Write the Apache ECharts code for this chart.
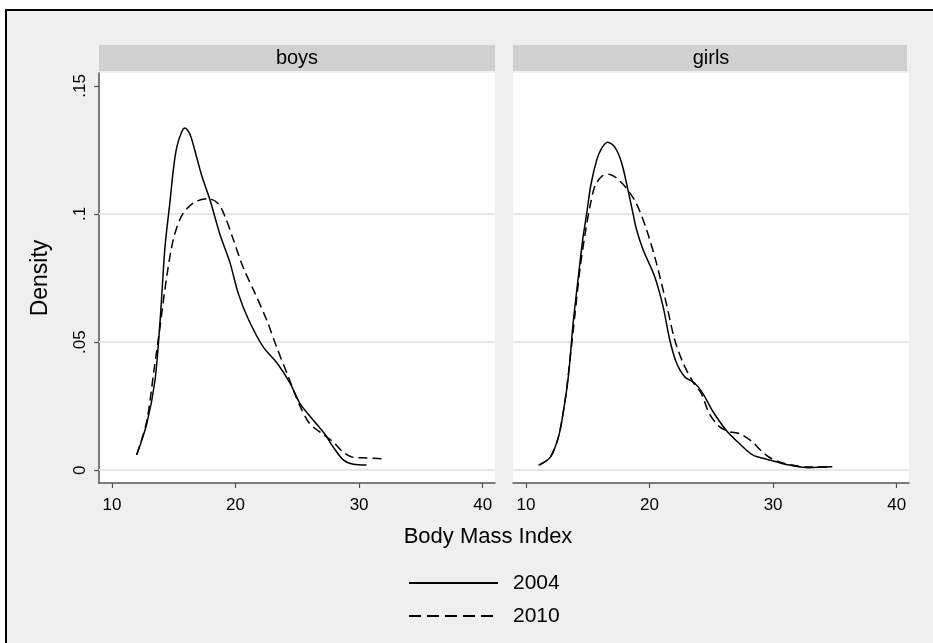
<!DOCTYPE html>
<html>
<head>
<meta charset="utf-8">
<script src="https://cdn.jsdelivr.net/npm/echarts@6/dist/echarts.min.js"></script>
<style>
html,body{margin:0;padding:0;background:#fff;}
#chart{width:933px;height:643px;}
</style>
</head>
<body>
<div id="chart"></div>
<script>
const panels = ['boys', 'girls'];
const years = ['2004', '2010'];
const xTicks = [10, 20, 30, 40];
const yTicks = [0, 0.05, 0.1, 0.15];
const gridLines = [0, 0.05, 0.1];

const boys2004 = [[12.0,0.006],[12.81,0.018],[13.48,0.035],[13.89,0.058],[14.29,0.087],[14.70,0.105],[14.96,0.117],[15.24,0.126],[15.64,0.132],[15.91,0.1335],[16.32,0.131],[16.86,0.122],[17.26,0.115],[17.93,0.1055],[18.74,0.092],[19.55,0.081],[20.22,0.069],[21.03,0.059],[22.25,0.048],[23.33,0.042],[24.41,0.034],[25.22,0.026],[26.3,0.0195],[27.24,0.014],[27.91,0.009],[28.72,0.004],[29.53,0.0023],[30.6,0.002]];
const boys2010 = [[12.0,0.006],[12.81,0.019],[13.40,0.039],[13.89,0.056],[14.43,0.0755],[14.96,0.090],[15.51,0.098],[16.05,0.102],[16.86,0.105],[17.8,0.106],[18.61,0.104],[19.15,0.099],[19.82,0.090],[20.63,0.079],[21.58,0.069],[22.52,0.0586],[23.33,0.048],[24.27,0.0365],[25.22,0.025],[26.03,0.018],[27.1,0.014],[27.91,0.011],[28.72,0.007],[29.53,0.005],[30.62,0.0048],[31.96,0.0044]];
const girls2004 = [[11.02,0.002],[11.96,0.005],[12.63,0.013],[13.03,0.023],[13.43,0.0365],[13.84,0.0586],[14.24,0.0755],[14.59,0.090],[14.91,0.100],[15.24,0.111],[15.72,0.121],[16.12,0.1256],[16.61,0.128],[17.2,0.126],[17.74,0.120],[18.27,0.109],[18.67,0.100],[18.94,0.094],[19.48,0.086],[20.42,0.0755],[21.09,0.064],[21.63,0.051],[22.17,0.042],[22.84,0.0365],[23.64,0.034],[24.31,0.030],[25.12,0.023],[26.2,0.0156],[27.27,0.0104],[28.34,0.006],[29.69,0.004],[31.3,0.002],[32.91,0.001],[34.79,0.0013]];
const girls2010 = [[11.1,0.002],[11.96,0.005],[12.63,0.013],[13.16,0.027],[13.56,0.043],[13.97,0.061],[14.38,0.079],[14.78,0.092],[15.18,0.103],[15.59,0.111],[16.12,0.1146],[16.66,0.1155],[17.33,0.114],[18.14,0.110],[18.94,0.104],[19.75,0.094],[20.55,0.081],[21.36,0.065],[22.03,0.051],[22.7,0.042],[23.51,0.0345],[24.18,0.030],[24.85,0.022],[25.66,0.017],[26.46,0.015],[27.27,0.0143],[28.34,0.011],[29.15,0.007],[29.95,0.0043],[31.3,0.0022],[32.91,0.0012],[34.55,0.0013]];

const FONT = 'Liberation Sans, Arial, sans-serif';
const panelData = [[boys2004, boys2010], [girls2004, girls2010]];
const gridLefts = [99, 513];

function fmtY(v) {
  if (v === 0) return '0';
  return String(+v.toFixed(2)).replace(/^0/, '');
}

const grids = gridLefts.map(l => ({
  left: l, top: 73, width: 396, height: 410,
  show: true, backgroundColor: '#ffffff', borderWidth: 0
}));

const xAxes = gridLefts.map((l, i) => ({
  type: 'value', gridIndex: i, min: 8.95, max: 41,
  axisLine: { show: true, onZero: false, lineStyle: { color: '#555', width: 1.5 } },
  axisTick: { show: true, customValues: xTicks, length: 5, lineStyle: { color: '#555', width: 1.2 } },
  axisLabel: { show: true, customValues: xTicks, fontSize: 17, color: '#000', fontFamily: FONT, margin: 14 },
  splitLine: { show: false }
}));

const yAxes = gridLefts.map((l, i) => ({
  type: 'value', gridIndex: i, min: -0.005, max: 0.155,
  show: i === 0,
  name: i === 0 ? 'Density' : '',
  nameLocation: 'middle', nameGap: 47, nameRotate: 90,
  nameTextStyle: { fontSize: 23, color: '#000', fontFamily: FONT },
  axisLine: { show: true, onZero: false, lineStyle: { color: '#555', width: 1.5 } },
  axisTick: { show: true, customValues: yTicks, length: 5, lineStyle: { color: '#555', width: 1.2 } },
  axisLabel: { show: true, customValues: yTicks, rotate: 90, fontSize: 17, color: '#000', fontFamily: FONT, margin: 10, formatter: fmtY },
  splitLine: { show: false }
}));

const series = [];
panelData.forEach((pair, i) => {
  pair.forEach((data, j) => {
    const s = {
      name: years[j], type: 'line', xAxisIndex: i, yAxisIndex: i,
      data: data, symbol: 'none', showSymbol: false, smooth: 0.3, z: 3,
      lineStyle: { color: '#000', width: 1.5, type: j === 0 ? 'solid' : [9, 5] },
      itemStyle: { color: '#000' }
    };
    if (j === 0) {
      s.markLine = {
        silent: true, symbol: ['none', 'none'], z: 1,
        label: { show: false },
        lineStyle: { color: '#e6e6e6', width: 2, type: 'solid' },
        data: gridLines.map(v => ({ yAxis: v }))
      };
    }
    series.push(s);
  });
});

const graphics = [
  { type: 'rect', z: -10, silent: true, shape: { x: 6, y: 10, width: 960, height: 660 },
    style: { fill: '#efefef', stroke: '#000', lineWidth: 2 } }
];
panels.forEach((p, i) => {
  graphics.push({ type: 'rect', z: -5, silent: true,
    shape: { x: gridLefts[i], y: 45, width: i === 0 ? 396 : 394, height: 26 },
    style: { fill: '#d0d0d0' } });
  graphics.push({ type: 'text', z: 5, silent: true,
    x: gridLefts[i] + 198, y: 58,
    style: { text: p, fontSize: 20, fontFamily: FONT, fill: '#000', align: 'center', verticalAlign: 'middle' } });
});
graphics.push({ type: 'text', z: 5, silent: true, x: 488, y: 537,
  style: { text: 'Body Mass Index', fontSize: 22, fontFamily: FONT, fill: '#000', align: 'center', verticalAlign: 'middle' } });

const option = {
  animation: false,
  backgroundColor: '#ffffff',
  grid: grids,
  xAxis: xAxes,
  yAxis: yAxes,
  legend: {
    orient: 'vertical', left: 403, top: 565,
    itemWidth: 89, itemHeight: 26, itemGap: 7,
    selectedMode: false,
    data: [
      { name: '2004' },
      { name: '2010', lineStyle: { type: [12, 6] } }
    ],
    itemStyle: { color: 'rgba(0,0,0,0)', borderColor: 'rgba(0,0,0,0)', borderWidth: 0 },
    textStyle: { fontSize: 21, color: '#000', fontFamily: FONT, padding: [0, 0, 0, 10], lineHeight: 26 }
  },
  graphic: graphics,
  series: series
};

const chart = echarts.init(document.getElementById('chart'), null, { renderer: 'canvas' });
chart.setOption(option);
</script>
</body>
</html>
